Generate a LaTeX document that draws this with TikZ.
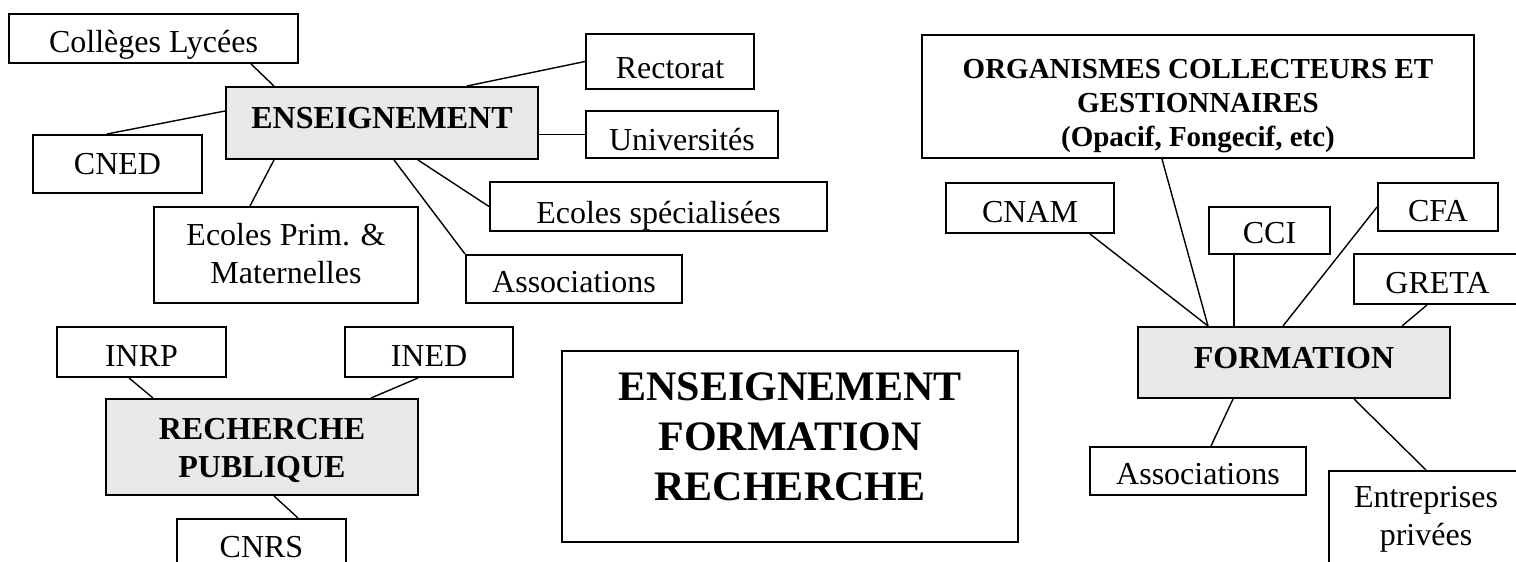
\documentclass[tikz,border=0pt]{standalone}
\usepackage{fontspec}
\setmainfont{Liberation Serif}
\usetikzlibrary{positioning}

\tikzset{
    entity/.style={draw, line width=1pt, inner sep=0pt, align=center,
        font=\fontsize{16}{19}\selectfont},
    hub/.style={entity, fill=gray!18, font=\fontsize{16}{19}\selectfont\bfseries},
    txtbase/.style={text height=#1, text depth=0pt},
    link/.style={line width=0.7pt}
}

\begin{document}
\begin{tikzpicture}[x=0.5pt, y=-0.5pt]
    \useasboundingbox (0,0) rectangle (1516,562);
    \clip (0,0) rectangle (1516,562);
    % enseignement
    \node[hub, txtbase=5pt, minimum width=156pt, minimum height=36pt] (ens) at (382,123) {ENSEIGNEMENT};
    \node[entity, txtbase=13.5pt, minimum width=144.5pt, minimum height=24.5pt] (college) at (153.5,38.5) {Collèges Lycées};
    \node[entity, txtbase=10pt, minimum width=84.5pt, minimum height=29pt] (cned) at (117.5,164) {CNED};
    \node[entity, txtbase=28pt, minimum width=132pt, minimum height=48pt] (prim) at (286,255) {Ecoles Prim. \&\\Maternelles};
    \node[entity, txtbase=13pt, minimum width=108pt, minimum height=24pt] (assocA) at (574,279) {Associations};
    \node[entity, txtbase=16.5pt, minimum width=84pt, minimum height=27.5pt] (rectorat) at (670,61.5) {Rectorat};
    \node[entity, txtbase=15.5pt, minimum width=96pt, minimum height=23.5pt] (univ) at (682,134.5) {Universités};
    \node[entity, txtbase=16.5pt, minimum width=168.5pt, minimum height=24.5pt] (specia) at (658.5,206.5) {Ecoles spécialisées};
    \draw[link] ([xshift=48.75pt]college.south) -- ([xshift=-54pt]ens.north);
    \draw[link] ([xshift=-5.25pt]cned.north) -- ([yshift=6pt]ens.west);
    \draw[link] ([xshift=-18pt]prim.north) -- ([xshift=-54pt]ens.south);
    \draw[link] (assocA.north west) -- ([xshift=6pt]ens.south);
    \draw[link] (specia.west) -- ([xshift=18pt]ens.south);
    \draw[link] (univ.west) -- (univ.west -| ens.east);
    \draw[link] (rectorat.west) -- ([xshift=42.5pt]ens.north);

    % recherche
    \node[hub, txtbase=30pt, minimum width=156pt, minimum height=48pt] (rech) at (262,447) {RECHERCHE\\PUBLIQUE};
    \node[entity, txtbase=14pt, minimum width=84.5pt, minimum height=25pt] (inrp) at (141.5,352) {INRP};
    \node[entity, txtbase=14pt, minimum width=84pt, minimum height=25pt] (ined) at (429,352) {INED};
    \node[entity, txtbase=9.5pt, minimum width=84.5pt, minimum height=29pt] (cnrs) at (261.5,548) {CNRS};
    \draw[link] ([xshift=-6.25pt]inrp.south) -- ([xshift=-54.5pt]rech.north);
    \draw[link] ([xshift=-5.5pt]ined.south) -- ([xshift=54.5pt]rech.north);
    \draw[link] ([xshift=18.25pt]cnrs.north) -- ([xshift=6pt]rech.south);

    % titre
    \node[entity, txtbase=53.5pt, minimum width=228pt, minimum height=95.5pt,
        font=\fontsize{21}{25}\selectfont\bfseries] (titre) at (790,446.5)
        {ENSEIGNEMENT\\FORMATION\\RECHERCHE};

    % formation
    \node[hub, txtbase=5.5pt, minimum width=156pt, minimum height=35.5pt] (form) at (1294,362.5) {FORMATION};
    \node[entity, txtbase=49.5pt, minimum width=276pt, minimum height=61.5pt,
        font=\fontsize{14.5}{17}\selectfont\bfseries] (orgs) at (1198,96.5)
        {ORGANISMES COLLECTEURS ET\\GESTIONNAIRES\\(Opacif, Fongecif, etc)};
    \node[entity, txtbase=14pt, minimum width=84pt, minimum height=25pt] (cnam) at (1030,208) {CNAM};
    \node[entity, txtbase=12.5pt, minimum width=60.5pt, minimum height=23.5pt] (cci) at (1269.5,230.5) {CCI};
    \node[entity, txtbase=14pt, minimum width=60pt, minimum height=24pt] (cfa) at (1438,207) {CFA};
    \node[entity, txtbase=14pt, minimum width=83.5pt, minimum height=25pt] (greta) at (1437.5,279) {GRETA};
    \node[entity, txtbase=13pt, minimum width=108pt, minimum height=24pt] (assocB) at (1198,471) {Associations};
    \node[entity, txtbase=25pt, minimum width=97pt, minimum height=49pt] (entr) at (1426,520) {Entreprises\\privées};
    \draw[link] ([xshift=-18pt]orgs.south) -- ([xshift=-43pt]form.north);
    \draw[link] ([xshift=30pt]cnam.south) -- ([xshift=-43pt]form.north);
    \draw[link] ([xshift=-17.75pt]cci.south) -- ([xshift=-17.75pt]cci.south |- form.north);
    \draw[link] (cfa.west) -- ([xshift=-5.5pt]form.north);
    \draw[link] ([xshift=-5.25pt]greta.south) -- ([xshift=54pt]form.north);
    \draw[link] ([xshift=6.5pt]assocB.north) -- ([xshift=-30.5pt]form.south);
    \draw[link] (entr.north) -- ([xshift=30pt]form.south);
\end{tikzpicture}
\end{document}
